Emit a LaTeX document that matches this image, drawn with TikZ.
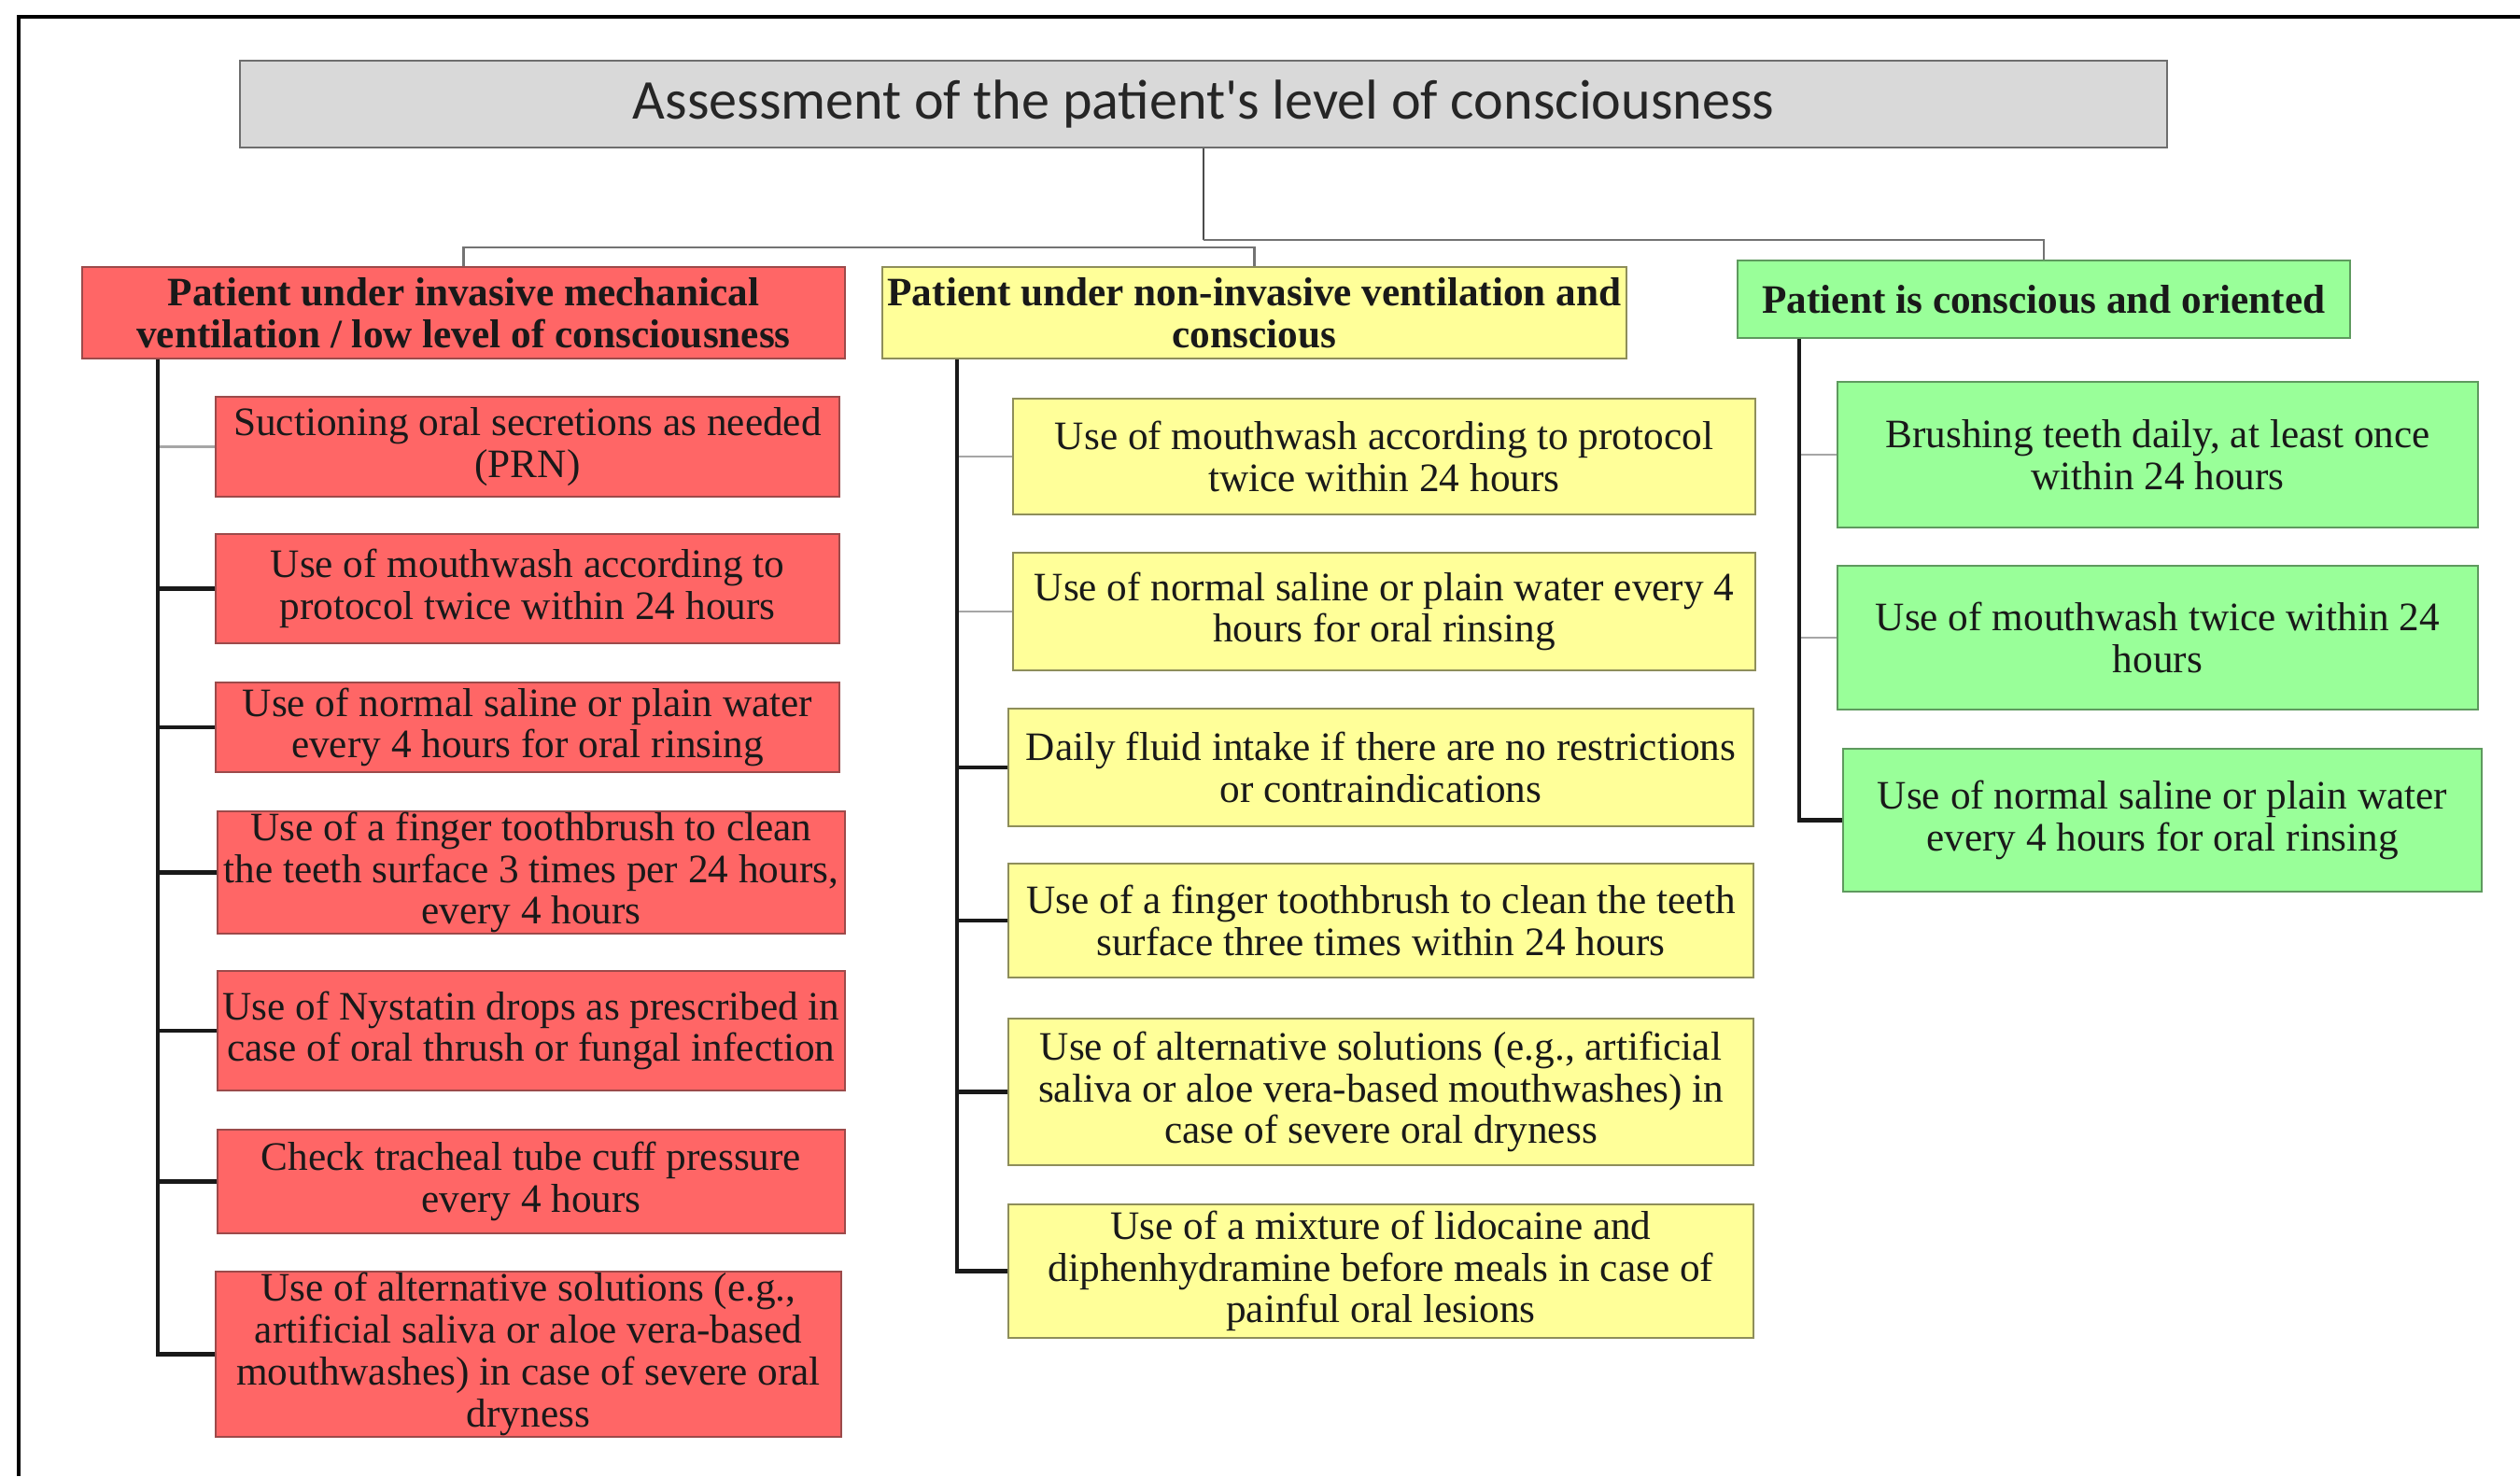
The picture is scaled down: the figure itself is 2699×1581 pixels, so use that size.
\documentclass[tikz,border=0pt]{standalone}
\usepackage{fontspec}
\setmainfont{Liberation Serif}
\newfontfamily\titlefont{Carlito}
\usetikzlibrary{calc}
\definecolor{redfill}{HTML}{FF6666}
\definecolor{redline}{HTML}{9C4A4A}
\definecolor{yelfill}{HTML}{FFFF99}
\definecolor{yelline}{HTML}{8E8E5A}
\definecolor{grnfill}{HTML}{99FF99}
\definecolor{grnline}{HTML}{5E9A5E}
\definecolor{ttlfill}{HTML}{D9D9D9}
\definecolor{ttlline}{HTML}{6E6E6E}
\begin{document}
\begin{tikzpicture}[x=0.01cm,y=-0.01cm,
  box/.style={rectangle, inner sep=0pt, align=center, text=black!90,
    font=\fontsize{12.3}{12.75}\selectfont, line width=0.6pt},
  hbox/.style={box, font=\fontsize{12.3}{12.75}\selectfont\bfseries},
  redbox/.style={box, fill=redfill, draw=redline},
  yelbox/.style={box, fill=yelfill, draw=yelline},
  grnbox/.style={box, fill=grnfill, draw=grnline},
  titlebox/.style={rectangle, inner sep=0pt, fill=ttlfill, draw=ttlline, line width=0.6pt,
    font=\titlefont\fontsize{17.1}{20}\selectfont, text=black!85},
  spine/.style={draw=black!90, line width=1.15pt},
  thinconn/.style={draw=black!35, line width=0.6pt},
  bus/.style={draw=black!55, line width=0.6pt},
  frameline/.style={draw=black, line width=1.1pt}
]
\useasboundingbox (0,0) rectangle (2699,1581);
\fill[white] (0,0) rectangle (2699,1581);
% outer frame (partial)
\draw[frameline] (20,1581) -- (20,18) -- (2699,18);

% title
\node[titlebox, minimum width=20.62cm, minimum height=0.93cm] (t) at (1289,111.5)
  {Assessment of the patient's level of consciousness};

% headers
\node[hbox, fill=redfill, draw=redline, minimum width=8.17cm, minimum height=0.98cm] (rh) at (496.5,335)
  {Patient under invasive mechanical\\ventilation / low level of consciousness};
\node[hbox, fill=yelfill, draw=yelline, minimum width=7.97cm, minimum height=0.98cm] (yh) at (1343.5,335)
  {Patient under non-invasive ventilation and\\conscious};
\node[hbox, fill=grnfill, draw=grnline, minimum width=6.56cm, minimum height=0.83cm] (gh) at (2189,320.5)
  {Patient is conscious and oriented};

% bus connectors
\draw[bus, draw=black!70] (t.south) -- (t.south |- 0,257);
\draw[bus] (t.south |- 0,265) -| (rh.north);
\draw[bus] (t.south |- 0,265) -| (yh.north);
\draw[bus] (t.south |- 0,257) -| (gh.north);

% red column
\node[redbox, minimum width=6.68cm, minimum height=1.07cm] (r1) at (565,478.5)
  {Suctioning oral secretions as needed\\(PRN)};
\node[redbox, minimum width=6.68cm, minimum height=1.17cm] (r2) at (565,630.5)
  {Use of mouthwash according to\\protocol twice within 24 hours};
\node[redbox, minimum width=6.68cm, minimum height=0.96cm] (r3) at (565,779)
  {Use of normal saline or plain water\\every 4 hours for oral rinsing};
\node[redbox, minimum width=6.72cm, minimum height=1.31cm] (r4) at (569,934.5)
  {Use of a finger toothbrush to clean\\the teeth surface 3 times per 24 hours,\\every 4 hours};
\node[redbox, minimum width=6.72cm, minimum height=1.28cm] (r5) at (569,1104)
  {Use of Nystatin drops as prescribed in\\case of oral thrush or fungal infection};
\node[redbox, minimum width=6.72cm, minimum height=1.11cm] (r6) at (569,1265.5)
  {Check tracheal tube cuff pressure\\every 4 hours};
\node[redbox, minimum width=6.70cm, minimum height=1.77cm] (r7) at (566,1450.5)
  {Use of alternative solutions (e.g.,\\artificial saliva or aloe vera-based\\mouthwashes) in case of severe oral\\dryness};

\coordinate (rs) at ($(rh.south west)+(82,0)$);
\draw[thinconn] (r1.west -| rs) -- (r1.west);
\foreach \n in {r2,r3,r4,r5,r6} \draw[spine] (\n.west -| rs) -- (\n.west);
\draw[spine] (rs) |- (r7.west);

% yellow column
\node[yelbox, minimum width=7.95cm, minimum height=1.24cm] (y1) at (1482.5,489)
  {Use of mouthwash according to protocol\\twice within 24 hours};
\node[yelbox, minimum width=7.95cm, minimum height=1.26cm] (y2) at (1482.5,655)
  {Use of normal saline or plain water every 4\\hours for oral rinsing};
\node[yelbox, minimum width=7.98cm, minimum height=1.26cm] (y3) at (1479,822)
  {Daily fluid intake if there are no restrictions\\or contraindications};
\node[yelbox, minimum width=7.98cm, minimum height=1.22cm] (y4) at (1479,986)
  {Use of a finger toothbrush to clean the teeth\\surface three times within 24 hours};
\node[yelbox, minimum width=7.98cm, minimum height=1.57cm] (y5) at (1479,1169.5)
  {Use of alternative solutions (e.g., artificial\\saliva or aloe vera-based mouthwashes) in\\case of severe oral dryness};
\node[yelbox, minimum width=7.98cm, minimum height=1.43cm] (y6) at (1479,1361.5)
  {Use of a mixture of lidocaine and\\diphenhydramine before meals in case of\\painful oral lesions};

\coordinate (ys) at ($(yh.south west)+(81,0)$);
\draw[thinconn] (y1.west -| ys) -- (y1.west);
\draw[thinconn] (y2.west -| ys) -- (y2.west);
\foreach \n in {y3,y4,y5} \draw[spine] (\n.west -| ys) -- (\n.west);
\draw[spine] (ys) |- (y6.west);

% green column
\node[grnbox, minimum width=6.86cm, minimum height=1.56cm] (g1) at (2311,487)
  {Brushing teeth daily, at least once\\within 24 hours};
\node[grnbox, minimum width=6.86cm, minimum height=1.54cm] (g2) at (2311,683)
  {Use of mouthwash twice within 24\\hours};
\node[grnbox, minimum width=6.84cm, minimum height=1.53cm] (g3) at (2316,878.5)
  {Use of normal saline or plain water\\every 4 hours for oral rinsing};

\coordinate (gs) at ($(gh.south west)+(67,0)$);
\draw[thinconn] (g1.west -| gs) -- (g1.west);
\draw[thinconn] (g2.west -| gs) -- (g2.west);
\draw[spine] (gs) |- (g3.west);
\end{tikzpicture}
\end{document}
